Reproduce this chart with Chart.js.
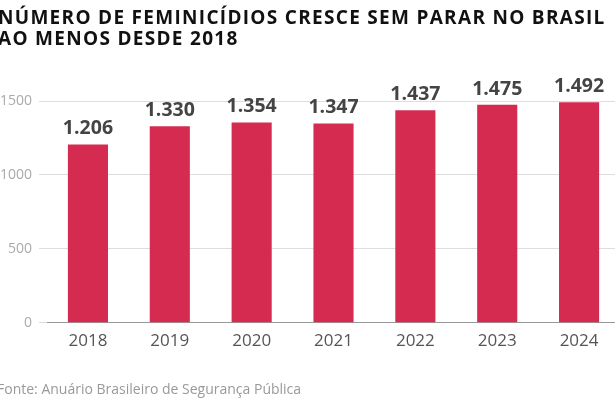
<!DOCTYPE html>
<html>
<head>
<meta charset="utf-8">
<script src="https://cdn.jsdelivr.net/npm/chart.js@4.4.1/dist/chart.umd.min.js"></script>
<style>
  html, body { margin: 0; padding: 0; background: #fff; overflow: hidden; }
  #wrap { position: absolute; left: -3px; top: 0; width: 624px; height: 410px; }
</style>
</head>
<body>
<div id="wrap"><canvas id="chart"></canvas></div>
<script>
// values
const years = ['2018', '2019', '2020', '2021', '2022', '2023', '2024'];
const feminicidios = [1206, 1330, 1354, 1347, 1437, 1475, 1492];
const yTicks = [0, 500, 1000, 1500];

const titleLines = ['NÚMERO DE FEMINICÍDIOS CRESCE SEM PARAR NO BRASIL', 'AO MENOS DESDE 2018'];
const source = 'Fonte: Anuário Brasileiro de Segurança Pública';

// 1206 -> "1.206"
function ptBR(n) {
  return String(n).replace(/\B(?=(\d{3})+(?!\d))/g, '.');
}

const valueLabels = {
  id: 'valueLabels',
  afterDatasetsDraw(chart) {
    const ctx = chart.ctx;
    const meta = chart.getDatasetMeta(0);
    ctx.save();
    ctx.font = 'bold 19.5px "Open Sans"';
    ctx.fillStyle = '#444';
    ctx.textAlign = 'center';
    ctx.textBaseline = 'bottom';
    meta.data.forEach((bar, i) => {
      ctx.fillText(ptBR(feminicidios[i]), bar.x, bar.y - 6);
    });
    ctx.restore();
  }
};

// the heading is wider-set than Chart.js' title allows, so draw it here
const heading = {
  id: 'heading',
  afterDraw(chart) {
    const ctx = chart.ctx;
    ctx.save();
    ctx.font = 'bold 19px "Open Sans"';
    ctx.letterSpacing = '1.3px';
    ctx.fillStyle = '#111';
    ctx.textAlign = 'left';
    ctx.textBaseline = 'alphabetic';
    titleLines.forEach((line, i) => ctx.fillText(line, 1, 24 + i * 21));
    ctx.restore();
  }
};

new Chart(document.getElementById('chart'), {
  type: 'bar',
  data: {
    labels: years,
    datasets: [{
      data: feminicidios,
      backgroundColor: '#d52b50',
      barPercentage: 0.49,
      categoryPercentage: 1
    }]
  },
  options: {
    responsive: true,
    maintainAspectRatio: false,
    animation: false,
    layout: { padding: { left: 0, right: 1, top: 101, bottom: 10 } },
    plugins: {
      legend: { display: false },
      tooltip: { enabled: false },
      subtitle: {
        display: true,
        position: 'bottom',
        text: source,
        align: 'start',
        color: '#999',
        font: { family: 'Open Sans', size: 14 },
        padding: { top: 30, bottom: 2 }
      }
    },
    scales: {
      x: {
        grid: { display: false },
        border: { color: '#999' },
        ticks: { color: '#555', font: { family: 'Open Sans', size: 17 }, padding: 0 }
      },
      y: {
        min: 0,
        max: 1500,
        afterBuildTicks(axis) { axis.ticks = yTicks.map(v => ({ value: v })); },
        afterFit(axis) { axis.width -= 4; },
        grid: { color: '#ddd', tickLength: 8 },
        border: { display: false },
        ticks: {
          color: '#aaa',
          font: { family: 'Open Sans', size: 14 },
          padding: 7,
          callback: v => String(v)
        }
      }
    }
  },
  plugins: [valueLabels, heading]
});
</script>
</body>
</html>
